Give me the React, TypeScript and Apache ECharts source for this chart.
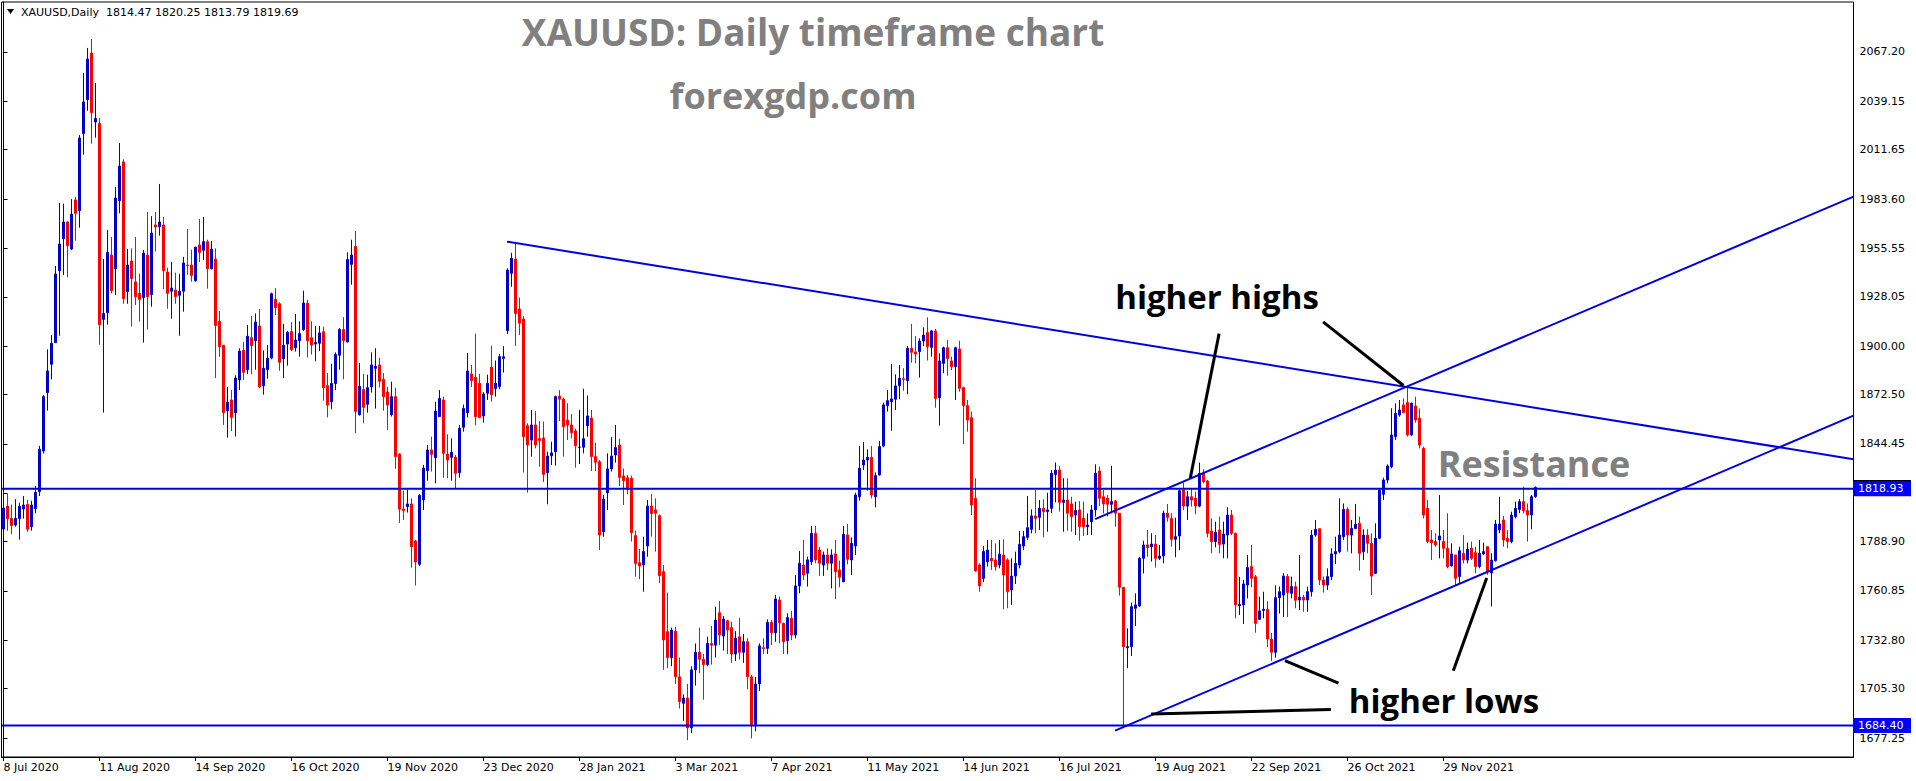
import React, { useEffect, useRef } from 'react';
import * as echarts from 'echarts';

// ---------- data ----------
const dateLabels = ['8 Jul 2020', '11 Aug 2020', '14 Sep 2020', '16 Oct 2020', '19 Nov 2020', '23 Dec 2020', '28 Jan 2021', '3 Mar 2021', '7 Apr 2021', '11 May 2021', '14 Jun 2021', '16 Jul 2021', '19 Aug 2021', '22 Sep 2021', '26 Oct 2021', '29 Nov 2021'];
const barsPerLabel = 24;
const totalSlots = 463; // bars + empty chart shift on the right

const priceTicks = [2067.2, 2039.15, 2011.65, 1983.6, 1955.55, 1928.05, 1900.0, 1872.5, 1844.45, 1816.4, 1788.9, 1760.85, 1732.8, 1705.3, 1677.25];
const priceLabels = [2067.2, 2039.15, 2011.65, 1983.6, 1955.55, 1928.05, 1900.0, 1872.5, 1844.45, 1788.9, 1760.85, 1732.8, 1705.3, 1677.25];
const yMin = 1666.45;
const yMax = 2095.62;
const resistance = 1818.93;
const support = 1684.4;
const lastPrice = 1819.69;
const headerText = 'XAUUSD,Daily  1814.47 1820.25 1813.79 1819.69';

// OHLC [open, high, low, close]
const barsJulSep2020 = [
  [1796, 1818, 1791, 1808], [1809.1, 1816, 1795, 1802], [1802, 1810, 1793, 1798], [1798.3, 1813, 1797.4, 1802.1], [1802, 1811, 1790, 1809],
  [1807.4, 1814.8, 1802, 1809.7], [1810, 1812.5, 1794.4, 1795.9], [1797.4, 1812.2, 1795.1, 1809.7], [1807.6, 1820.5, 1805, 1816.9], [1817.3, 1843.3, 1814.8, 1841.4],
  [1840.4, 1872.2, 1839, 1871.3], [1873.6, 1898.2, 1863.3, 1885.9], [1889.7, 1906.3, 1881.1, 1901.6], [1902, 1945.6, 1902, 1941], [1942.9, 1981.4, 1905.9, 1958.1],
  [1961.1, 1981, 1940.4, 1970.6], [1970.6, 1971.1, 1939.1, 1957.1], [1955.2, 1983.6, 1954.6, 1975.1], [1983.1, 1984.8, 1959.9, 1975.5], [1977, 2020, 1967.3, 2018.3],
  [2020.8, 2055.3, 2008.8, 2038.8], [2040.1, 2069.5, 2033.8, 2063.2], [2066.6, 2074.6, 2015.1, 2032.7], [2027.4, 2049.6, 2018.5, 2029.4], [2026.6, 2029.7, 1900.8, 1912.2],
  [1915.2, 1949.5, 1862.2, 1918.6], [1919, 1966, 1912.2, 1953.3], [1951.8, 1962, 1930, 1931.5], [1944, 1990.5, 1929.1, 1984.2], [1982.7, 2015.5, 1975.5, 2002.4],
  [2004.7, 2006.2, 1924.1, 1927], [1931, 1955.2, 1924.1, 1946.1], [1948.4, 1955.6, 1911.1, 1938.4], [1936.5, 1962, 1923.4, 1928.1], [1930, 1941.2, 1913.9, 1926.6],
  [1927.7, 1954.7, 1902, 1952.9], [1951.8, 1976.3, 1909.4, 1928.1], [1929.3, 1973.9, 1922.4, 1964.3], [1968.9, 1976.3, 1953.7, 1967.7], [1967.9, 1992.2, 1962.8, 1970.6],
  [1968.9, 1973.4, 1932.3, 1942.9], [1942.1, 1944.6, 1921.3, 1930], [1931.2, 1947.8, 1915.6, 1933], [1931.9, 1941.8, 1924.1, 1928.1], [1928.9, 1941, 1905.9, 1931.2],
  [1931.2, 1950.7, 1919.6, 1947.3], [1946.1, 1966.6, 1940.6, 1945.7], [1946.1, 1954.8, 1936.6, 1940.2], [1937.2, 1956.3, 1936.6, 1956.3], [1957.5, 1972.3, 1947.8, 1953.3],
  [1954.5, 1973.4, 1948.9, 1959.4], [1959.4, 1960.5, 1932.7, 1944], [1944, 1959.8, 1943.6, 1955.2], [1949.5, 1955.6, 1881.9, 1911.8], [1914.1, 1920, 1894, 1899.7],
  [1900.5, 1900.5, 1855.2, 1862.2], [1863.3, 1876.8, 1848, 1868.2], [1869.4, 1875, 1851.8, 1859.5], [1862.2, 1883.4, 1848.6, 1881.9], [1880.8, 1898.8, 1875, 1897.2],
];
const barsOctDec2020 = [
  [1897.6, 1902.4, 1880.8, 1885.1], [1886.6, 1912, 1884, 1905.6], [1904.8, 1917.1, 1884, 1900.3], [1903.1, 1918.6, 1886.6, 1913.7], [1911.5, 1921.1, 1876, 1876.8],
  [1877.5, 1897.6, 1872.4, 1887.4], [1886.6, 1900.6, 1881.5, 1893.2], [1893.2, 1930.4, 1892.5, 1929.8], [1926.6, 1933, 1917.7, 1921.9], [1924.1, 1924.9, 1886, 1890.8],
  [1892.9, 1912.6, 1881.9, 1900.5], [1901.2, 1908.6, 1888.9, 1907.8], [1908.2, 1913.7, 1897.2, 1898], [1899.1, 1918.3, 1896.9, 1903.5], [1903.1, 1914.1, 1894, 1907.1],
  [1909.4, 1931.5, 1908.6, 1924.5], [1924.5, 1926.4, 1893.6, 1903.1], [1904.8, 1914.1, 1895.2, 1900.6], [1901.2, 1911.5, 1891.4, 1902], [1901.6, 1911.5, 1897.2, 1907.5],
  [1908.2, 1911.1, 1869, 1876.4], [1877.5, 1884.7, 1859.5, 1866.5], [1868.5, 1890, 1864.1, 1878.7], [1878.7, 1896.5, 1875, 1895.2], [1894.8, 1910.3, 1886.6, 1909.4],
  [1909.4, 1916.5, 1881.1, 1903.1], [1902.4, 1953.3, 1902, 1949.2], [1946.5, 1960.5, 1934.9, 1951.8], [1956.7, 1965.5, 1850.5, 1862.9], [1861, 1890.4, 1860.5, 1877.2],
  [1875.3, 1884.2, 1856.1, 1865.2], [1866.9, 1883.8, 1862.2, 1876.4], [1876.8, 1896.5, 1873.6, 1889.3], [1887.4, 1898.8, 1864.5, 1888.5], [1889.3, 1893.3, 1876.4, 1880],
  [1881.1, 1884.7, 1863.3, 1871.3], [1873.9, 1876.8, 1852.3, 1866.5], [1861, 1879.8, 1860, 1871.3], [1871.3, 1876.4, 1830.4, 1837.2], [1838.7, 1839, 1799.5, 1807.3],
  [1807.4, 1817.9, 1801.2, 1806.5], [1808.8, 1818.6, 1805.4, 1810.3], [1810.3, 1813.5, 1774.1, 1786], [1789.2, 1789.8, 1763.9, 1777.3], [1776, 1816, 1774.9, 1815.2],
  [1812.6, 1832.5, 1806.9, 1830.6], [1829.2, 1843.8, 1823.5, 1841], [1841, 1848.6, 1828.7, 1838.5], [1836.6, 1868.4, 1822, 1863.1], [1860, 1875, 1859.9, 1870.3],
  [1869.4, 1871.3, 1825.2, 1839.1], [1838.7, 1849.9, 1824.9, 1835.3], [1836.8, 1847.6, 1823.5, 1839.7], [1836.8, 1838.1, 1819.2, 1827.7], [1828.1, 1855.2, 1825.2, 1853.3],
  [1853.9, 1866.8, 1851.4, 1864.6], [1862.2, 1896.1, 1859.5, 1885.9], [1884.2, 1889.3, 1876.8, 1880.4], [1882.3, 1907.1, 1855, 1859.9], [1878.9, 1884.2, 1859, 1859.4],
  [1860.3, 1873.9, 1856.5, 1872.8], [1873.2, 1883.8, 1869.4, 1878.9], [1888.1, 1900.3, 1868.4, 1872.4], [1875.9, 1891.8, 1871.3, 1878.9], [1877, 1895.5, 1875.6, 1894],
];
const barsJanMar2021 = [
  [1893, 1900, 1885, 1894], [1908.8, 1944.2, 1906.9, 1943.3], [1941.4, 1953.1, 1933.8, 1949.9], [1949.5, 1958.8, 1900.1, 1918.6], [1921.1, 1927.6, 1906.3, 1913],
  [1915.4, 1917.1, 1828.1, 1848.5], [1854.8, 1856.1, 1816.7, 1843.8], [1846.6, 1863.7, 1837.2, 1855.2], [1855.2, 1863.1, 1841.9, 1843.8], [1847.4, 1857.4, 1831.5, 1846.3],
  [1847.8, 1857.1, 1822.8, 1827.1], [1828.1, 1840, 1810.1, 1837.5], [1837.7, 1845.7, 1832.4, 1839.3], [1840, 1871.9, 1832.1, 1871.3], [1871.6, 1875, 1857.4, 1869.8],
  [1869.9, 1870.7, 1837.2, 1854.2], [1858, 1867.5, 1846.6, 1855.2], [1855.2, 1861.4, 1847.6, 1850.8], [1851.8, 1853.1, 1830.9, 1843.4], [1842.5, 1863.7, 1833, 1842.5],
  [1842.5, 1875.8, 1839.1, 1847.4], [1854.8, 1871.9, 1848.5, 1860.3], [1859.1, 1863.7, 1829, 1837.2], [1837.2, 1845.1, 1829, 1834], [1834.3, 1835.3, 1784.1, 1792.6],
  [1794.5, 1815.4, 1791.7, 1813.1], [1816.7, 1839.1, 1806.9, 1830.2], [1830.2, 1848.3, 1828.7, 1837.5], [1838.1, 1855.2, 1833.8, 1842.3], [1843.8, 1847.4, 1820.5, 1825.4],
  [1826.2, 1830.5, 1809.7, 1823.5], [1825.2, 1826.8, 1815.8, 1818.8], [1824.9, 1826.4, 1788.9, 1794], [1792.3, 1795.1, 1768.9, 1776.5], [1776.9, 1784.7, 1767.5, 1775],
  [1775.6, 1791.7, 1760.4, 1783.2], [1786.4, 1812.5, 1780.3, 1809.1], [1809.1, 1816, 1791.7, 1804.9], [1806.9, 1813.5, 1783.2, 1805], [1803.6, 1804.4, 1765.2, 1769.5],
  [1771.8, 1775.6, 1716, 1733], [1737.7, 1759.9, 1717, 1723], [1723, 1740, 1718, 1738.6], [1738, 1740.5, 1708, 1712], [1712, 1723, 1694, 1698],
  [1697, 1702, 1687, 1700], [1700, 1708, 1676, 1683], [1683, 1718, 1680, 1716], [1716, 1731, 1707, 1726], [1726, 1740, 1714, 1722],
  [1722, 1725, 1699, 1719], [1719, 1734.9, 1718, 1731], [1731, 1741, 1719, 1730], [1730, 1751.9, 1723, 1744.3], [1748.5, 1755.1, 1730, 1735.8],
  [1735.2, 1746.6, 1727, 1744.9], [1743.9, 1744.5, 1725, 1738.6], [1740, 1743.4, 1720, 1725], [1725, 1738, 1721, 1734], [1734.8, 1745.6, 1722, 1726],
  [1726, 1736.4, 1720, 1732], [1732, 1734, 1705, 1712], [1712, 1713, 1677, 1685], [1685, 1712, 1681, 1708], [1708, 1731, 1704, 1729.6],
];
const barsAprJun2021 = [
  [1728.6, 1733.9, 1725, 1728.1], [1728.2, 1744.7, 1725, 1743], [1743, 1744.3, 1730.1, 1737.1], [1737.1, 1758.6, 1732, 1756.3], [1755.7, 1757.6, 1731.1, 1742.8],
  [1742.4, 1742.8, 1725, 1732], [1732.6, 1748.1, 1725, 1745.7], [1745.3, 1749.5, 1732.9, 1735.8], [1735.8, 1769.9, 1733.9, 1763.7], [1763.7, 1783.6, 1759.5, 1776.6],
  [1775.6, 1789.8, 1767.1, 1769.9], [1770.9, 1780.3, 1763.3, 1778.5], [1777.5, 1797.8, 1775.6, 1793.6], [1793.6, 1797.8, 1776.6, 1778.5], [1784.1, 1786, 1769.4, 1776.6],
  [1775.6, 1783.2, 1769.4, 1781.3], [1781.3, 1785.1, 1772.7, 1776.6], [1776.6, 1784.5, 1762.3, 1781.3], [1781.9, 1789.8, 1756.1, 1771.8], [1772.8, 1778.1, 1762.9, 1768.6],
  [1766.1, 1797.8, 1765.8, 1793], [1792.7, 1798.9, 1776, 1778.8], [1778.5, 1791.3, 1769.9, 1787.9], [1786.4, 1816.7, 1781.3, 1815.4], [1814.4, 1843.2, 1812.2, 1830.6],
  [1832.4, 1845.5, 1829.6, 1835.3], [1835.3, 1841.3, 1817.9, 1836.8], [1836.8, 1843.2, 1813.5, 1815.4], [1814.4, 1828.3, 1808.4, 1826.4], [1826.8, 1846.1, 1826.4, 1842.9],
  [1843.2, 1867.9, 1842.5, 1866.6], [1866.2, 1875.1, 1862.8, 1869], [1868.4, 1889.9, 1851.9, 1870], [1869.8, 1884, 1863.7, 1877.4], [1877.5, 1889.3, 1869.8, 1881.7],
  [1881.5, 1887.4, 1874.7, 1881.1], [1880.4, 1900.1, 1872.6, 1898.8], [1898.8, 1912.6, 1890.6, 1896.5], [1896.7, 1905.8, 1890.2, 1895.5], [1896.9, 1904.4, 1882.1, 1902.9],
  [1902.9, 1910.7, 1900.1, 1906.3], [1907.7, 1916.4, 1891.8, 1899.7], [1899.3, 1909.2, 1894, 1908.6], [1908.6, 1909.8, 1865, 1870.3], [1870.7, 1895.9, 1854.8, 1891.6],
  [1890.2, 1899.7, 1884.6, 1899.1], [1899.1, 1903.5, 1883.2, 1892.9], [1891.6, 1894, 1886.4, 1888.4], [1888.4, 1899.7, 1869.4, 1899.1], [1898.4, 1903.1, 1874.1, 1876],
  [1876.4, 1877, 1844.4, 1866.2], [1866.2, 1869.4, 1851.4, 1858], [1859.3, 1862.8, 1804, 1809.7], [1813.5, 1824.9, 1771.8, 1772.2], [1775.6, 1776.5, 1760.4, 1763.7],
  [1768, 1786.4, 1765.8, 1783.2], [1777.5, 1789.8, 1774.7, 1784.1], [1779.4, 1789.8, 1772.8, 1777.9], [1778.4, 1787.9, 1772.4, 1774.7], [1775.6, 1789.8, 1773.7, 1781.7],
  [1781.3, 1790.2, 1750.4, 1769.9], [1778.5, 1779.4, 1751, 1760.4], [1761.4, 1779.4, 1752.9, 1769.3], [1769.3, 1783.2, 1764.8, 1776.5],
];
const barsJulSep2021 = [
  [1775.6, 1794.9, 1773.7, 1787.3], [1786.4, 1794.9, 1784.1, 1791.7], [1791.3, 1814.8, 1789.8, 1796.8], [1795.9, 1807.2, 1793.6, 1803.5], [1803.5, 1818.2, 1793.6, 1802.1],
  [1802.7, 1812.5, 1795.5, 1807.8], [1807.8, 1812.9, 1791.3, 1805.9], [1805.9, 1816.7, 1794.5, 1806.9], [1807.8, 1829.6, 1805, 1827.7], [1827.1, 1833.9, 1811.2, 1829.6],
  [1829.6, 1831.9, 1805.9, 1811.2], [1811.2, 1824.9, 1794.5, 1812.5], [1812.5, 1824.9, 1795.1, 1805], [1810.3, 1814.4, 1794.5, 1803.1], [1804, 1811.6, 1792.6, 1806.5],
  [1806.9, 1811.9, 1789.4, 1797.4], [1802.1, 1811.6, 1792.1, 1797.4], [1797.4, 1804.9, 1792.6, 1798.3], [1800.2, 1809.7, 1792.6, 1806.9], [1806.9, 1832.8, 1803.1, 1827.7],
  [1829, 1831.5, 1809.1, 1813.5], [1814.4, 1818.2, 1804.9, 1810.3], [1813.5, 1815.4, 1803.1, 1810.1], [1810.1, 1832, 1805, 1811.6], [1812, 1812.5, 1797.4, 1805],
  [1805, 1805, 1758.2, 1762.9], [1762.9, 1762.9, 1684.1, 1729.2], [1728.6, 1739.6, 1716.9, 1729.2], [1729.2, 1754.2, 1723.9, 1751.9], [1751, 1759.5, 1740.9, 1752.9],
  [1752.3, 1780.3, 1751.9, 1779.4], [1779.4, 1789.4, 1770.8, 1787], [1787, 1795.5, 1780.3, 1785.6], [1786, 1793.6, 1777.5, 1787.5], [1787.5, 1792.6, 1774.1, 1779.4],
  [1779.4, 1787, 1778.4, 1780.7], [1780.7, 1806.5, 1776.5, 1805], [1805, 1810.3, 1800.2, 1802.7], [1802.1, 1805, 1786, 1790.2], [1790.2, 1802.5, 1780, 1791.7],
  [1792.1, 1819, 1784.1, 1817.8], [1818.6, 1822.4, 1806.9, 1809.1], [1809.1, 1817.7, 1801.2, 1814.4], [1814.4, 1819.2, 1808.8, 1812.5], [1813.5, 1817.3, 1804.4, 1809.1],
  [1809.1, 1833.8, 1808.4, 1827.7], [1827.7, 1830, 1822, 1823], [1823.3, 1823.9, 1791.3, 1793.6], [1794.9, 1802.1, 1782.2, 1788.9], [1788.9, 1800.2, 1785.6, 1794.2],
  [1795.5, 1803.1, 1782.2, 1787.3], [1787.5, 1800.2, 1779.4, 1793.2], [1792.6, 1808.4, 1779.4, 1804], [1804, 1806.9, 1792.6, 1793.6], [1793.6, 1794, 1745.3, 1752.9],
  [1752.4, 1768.9, 1747.2, 1753.2], [1752.9, 1767.1, 1742.1, 1764.8], [1764.2, 1781.3, 1756.6, 1774.1], [1774.7, 1787, 1762.9, 1768], [1768.9, 1769.9, 1737.1, 1742.4],
  [1744.7, 1757.6, 1744.3, 1749.5], [1749.7, 1760.4, 1745.3, 1750.4], [1750.4, 1755, 1729, 1733.5], [1733.5, 1737, 1721, 1726], [1726, 1764, 1723, 1757],
];
const barsOctDec2021 = [
  [1757, 1763.3, 1748, 1760.4], [1758.5, 1770.9, 1746, 1769.3], [1769, 1770.5, 1746, 1760], [1759.5, 1769, 1756.6, 1763.3], [1763.3, 1766.1, 1751, 1755.6],
  [1755.7, 1781.3, 1750, 1757.3], [1757.3, 1758.6, 1749, 1755.7], [1755.7, 1763.3, 1749, 1760.4], [1760.4, 1795.5, 1757.6, 1792.6], [1792.6, 1801.2, 1791.7, 1795.9],
  [1796.2, 1796.2, 1764.2, 1767.1], [1767.1, 1769, 1759.9, 1764.2], [1764.2, 1773.7, 1761.4, 1769], [1769, 1785.1, 1767.1, 1781.9], [1781.9, 1791.7, 1776.2, 1783.2],
  [1783.2, 1813.5, 1782.2, 1792.6], [1791.7, 1810.6, 1789.8, 1807.2], [1807.2, 1808.4, 1783.2, 1792.6], [1792.6, 1801.2, 1782.2, 1796.4], [1796.4, 1810.3, 1795.9, 1798.7],
  [1799.3, 1803.1, 1772.4, 1782.2], [1783.2, 1795.9, 1778.4, 1792.6], [1792.6, 1795.9, 1782.2, 1787.9], [1787.9, 1793.6, 1758.5, 1769.3], [1770.9, 1799.3, 1770.5, 1790.8],
  [1790.8, 1818.6, 1790.2, 1818.2], [1815.8, 1825.2, 1812.5, 1823.9], [1823.9, 1832.8, 1822, 1831.9], [1831.5, 1864.7, 1830.5, 1849.5], [1848.6, 1867.5, 1846.7, 1861.8],
  [1860.9, 1869.4, 1859.9, 1863.7], [1866.6, 1870.3, 1861.8, 1862.2], [1867.9, 1876.6, 1848.6, 1849.5], [1849.5, 1867.9, 1848.9, 1867.5], [1866, 1871.3, 1856.5, 1858],
  [1859, 1864.6, 1841.9, 1843.8], [1841.9, 1842.9, 1802.1, 1804], [1807.8, 1812.5, 1787.9, 1788.9], [1789.8, 1795.5, 1778.4, 1788.3], [1788.9, 1793.6, 1786, 1787],
  [1789.8, 1815.4, 1779.4, 1792.1], [1788.9, 1795.5, 1779.4, 1785.1], [1785.1, 1805, 1773.7, 1774.7], [1775.2, 1787.9, 1774.7, 1781.9], [1781.3, 1781.3, 1764.2, 1768],
  [1769, 1786, 1765.2, 1783.7], [1782.2, 1792.6, 1776.5, 1778.4], [1778.4, 1788.3, 1776.5, 1784.5], [1785.1, 1788.9, 1778.4, 1779.4], [1782.6, 1786, 1770.9, 1774.7],
  [1774.7, 1789.8, 1773.7, 1782.2], [1781.9, 1788.3, 1781.3, 1783.2], [1786, 1786, 1770, 1771.8], [1771.1, 1782.2, 1752, 1778.4], [1778.1, 1801.2, 1777.5, 1798.9],
  [1795.5, 1814.4, 1793.6, 1798.9], [1801.2, 1803.5, 1786, 1789.8], [1790.8, 1795.5, 1785.1, 1788.9], [1788.9, 1805.9, 1787.9, 1804], [1803.1, 1811.6, 1802.1, 1807.8],
  [1807.2, 1813.1, 1805, 1811.6], [1811.6, 1820.1, 1805, 1806.5], [1806.5, 1810.6, 1788.9, 1804], [1804, 1815.4, 1795.9, 1814.4], [1814.47, 1820.25, 1813.79, 1819.69],
];

// trend lines: [bar index, price]
const fallingTrendline = [[125.9, 1959.4], [462.5, 1835.7]];
const channelUpper = [[272.9, 1801.7], [462.5, 1984.95]];
const channelLower = [[277.9, 1681.4], [462.5, 1860.5]];
const pointerLines = [
  [[303.9, 1907.1], [296.7, 1825.0]],
  [[329.9, 1913.8], [350.0, 1877.6]],
  [[320.35, 1721.2], [333.75, 1708.5]],
  [[362.45, 1715.5], [370.8, 1768.2]],
  [[286.9, 1690.9], [331.85, 1693.4]],
];

const BLUE = '#0000DD';
const CANDLE_BLUE = '#0000CD';
const RED = '#FF0000';

export default function App() {
  const ref = useRef<HTMLDivElement>(null);

  useEffect(() => {
    if (!ref.current) return;
    const chart = echarts.init(ref.current, undefined, { renderer: 'svg' });
    const bars = [...barsJulSep2020, ...barsOctDec2020, ...barsJanMar2021, ...barsAprJun2021, ...barsJulSep2021, ...barsOctDec2021];
    const categories = Array.from({ length: totalSlots }, (_, i) => String(i));
    const candleData = bars.map(([o, h, l, c]) => [o, c, l, h]);
    const showTick = (index: number) => index % barsPerLabel === 0 && index / barsPerLabel < dateLabels.length;

    const lineSeries = (data: number[][], color: string, width: number) => ({
      type: 'line',
      xAxisIndex: 1,
      yAxisIndex: 0,
      data,
      symbol: 'none',
      silent: true,
      lineStyle: { color, width },
      z: 5,
    });

    chart.setOption({
      animation: false,
      backgroundColor: '#ffffff',
      textStyle: { fontFamily: 'DejaVu Sans' },
      grid: { left: 1.5, right: 62.5, top: 2, bottom: 24, show: true, borderColor: '#000', borderWidth: 1, backgroundColor: '#fff' },
      xAxis: [
        {
          type: 'category',
          data: categories,
          boundaryGap: true,
          axisLine: { show: true, lineStyle: { color: '#000', width: 1 } },
          axisTick: { show: true, alignWithLabel: true, interval: (i: number) => showTick(i), length: 4, lineStyle: { color: '#000' } },
          axisLabel: {
            interval: (i: number) => showTick(i),
            formatter: (_v: string, i: number) => dateLabels[i / barsPerLabel] ?? '',
            align: 'left',
            margin: 5,
            color: '#000',
            fontSize: 11,
            fontFamily: 'DejaVu Sans',
          },
          splitLine: { show: false },
        },
        { type: 'value', min: -0.5, max: totalSlots - 0.5, show: false, splitLine: { show: false } },
      ],
      yAxis: {
        type: 'value',
        position: 'right',
        min: yMin,
        max: yMax,
        scale: true,
        axisLine: { show: true, lineStyle: { color: '#000' } },
        axisTick: { show: true, customValues: priceTicks, length: 4, lineStyle: { color: '#000' } },
        axisLabel: { customValues: priceLabels, formatter: (v: number) => v.toFixed(2), color: '#000', fontSize: 11, fontFamily: 'DejaVu Sans', margin: 6 },
        splitLine: { show: false },
      },
      series: [
        {
          type: 'candlestick',
          data: candleData,
          barWidth: 2,
          itemStyle: { color: CANDLE_BLUE, color0: RED, borderColor: CANDLE_BLUE, borderColor0: RED, borderColorDoji: '#000', borderWidth: 1 },
          silent: true,
          z: 3,
        },
        lineSeries([[-0.5, resistance], [totalSlots - 0.5, resistance]], BLUE, 2),
        lineSeries([[-0.5, support], [totalSlots - 0.5, support]], BLUE, 2),
        lineSeries(fallingTrendline, BLUE, 2),
        lineSeries(channelUpper, BLUE, 2),
        lineSeries(channelLower, BLUE, 2),
        ...pointerLines.map((p) => lineSeries(p, '#000', 3)),
      ],
    });

    const yOf = (v: number) => chart.convertToPixel({ yAxisIndex: 0 }, v) as number;
    const rightX = 1853;
    const priceBox = (v: number, bg: string, label: string) => [
      { type: 'rect', z: 100, shape: { x: rightX, y: yOf(v) - 7.5, width: 58, height: 15 }, style: { fill: bg } },
      { type: 'text', z: 101, x: rightX + 5, y: yOf(v), style: { text: label, fill: '#fff', font: '11px "DejaVu Sans"', textAlign: 'left', textVerticalAlign: 'middle', align: 'left', verticalAlign: 'middle' } },
    ];
    const txt = (text: string, x: number, y: number, size: number, color: string) => ({
      type: 'text',
      z: 100,
      x,
      y,
      style: { text, fill: color, font: `bold ${size}px "Open Sans"`, textAlign: 'center', textVerticalAlign: 'middle', align: 'center', verticalAlign: 'middle' },
    });

    chart.setOption({
      graphic: [
        { type: 'polygon', z: 100, shape: { points: [[7, 9], [14, 9], [10.5, 14]] }, style: { fill: '#000' } },
        { type: 'text', z: 100, x: 21, y: 12, style: { text: headerText, fill: '#000', font: '11px "DejaVu Sans"', textAlign: 'left', textVerticalAlign: 'middle', align: 'left', verticalAlign: 'middle' } },
        txt('XAUUSD: Daily timeframe chart', 813, 31, 37, '#808080'),
        txt('forexgdp.com', 793, 95, 36, '#808080'),
        txt('higher highs', 1217, 296, 33, '#000'),
        txt('higher lows', 1444, 700, 33, '#000'),
        txt('Resistance', 1534, 463, 36, '#808080'),
        ...priceBox(lastPrice, '#000', ''),
        ...priceBox(resistance, '#0000FF', resistance.toFixed(2)),
        ...priceBox(support, '#0000FF', support.toFixed(2)),
      ],
    });

    return () => chart.dispose();
  }, []);

  return <div ref={ref} style={{ position: 'fixed', left: 0, top: 0, width: 1916, height: 781, background: '#fff' }} />;
}
